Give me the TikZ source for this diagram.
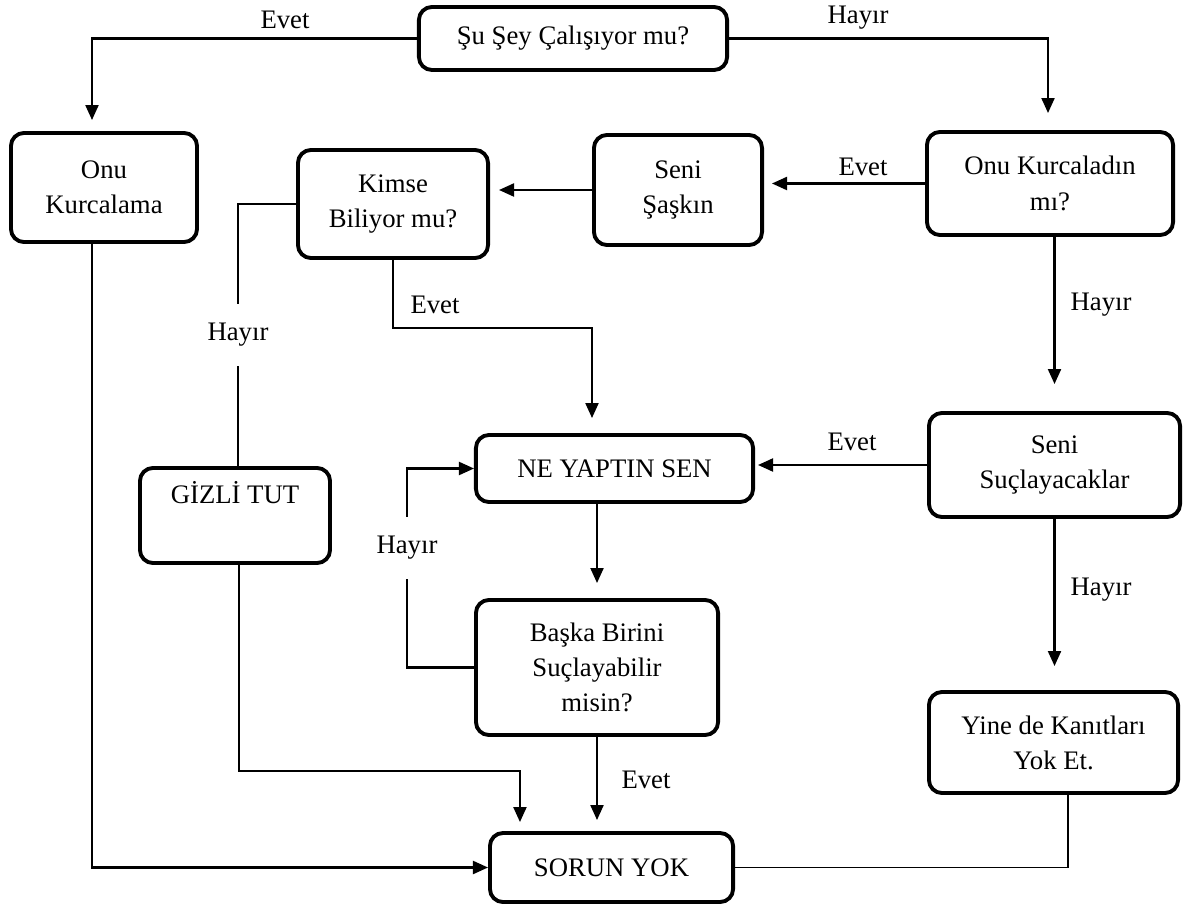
\documentclass[tikz,border=0pt]{standalone}
\usepackage{fontspec}
\setmainfont{Liberation Serif}
\usepackage{tikz}
\usetikzlibrary{arrows.meta,positioning,calc}

\tikzset{
  box/.style={draw, line width=1.1pt, rounded corners=1.3mm, align=center, inner sep=0pt},
  arr/.style={-{Triangle[length=1.5mm,width=1.3mm]}, line width=0.6pt},
  thinline/.style={line width=0.4pt},
  lbl/.style={inner sep=0.5pt},
  gap/.style={lbl, fill=white, inner ysep=1.9mm}
}

\begin{document}
\begin{tikzpicture}[x=0.01cm, y=-0.01cm, font=\fontsize{7.6}{10}\selectfont]
\useasboundingbox (0,0) rectangle (1189,907);

% Boxes
\node[box, minimum width=3.08cm, minimum height=0.63cm] (soru) at (573,38.5) {Şu Şey Çalışıyor mu?};
\node[box, minimum width=1.86cm, minimum height=1.09cm] (kurcalama) at (104,187.5) {Onu\\Kurcalama};
\node[box, minimum width=1.90cm, minimum height=1.08cm] (kimse) at (393,204) {Kimse\\Biliyor mu?};
\node[box, minimum width=1.68cm, minimum height=1.10cm] (saskin) at (678,190) {Seni\\Şaşkın};
\node[box, minimum width=2.46cm, minimum height=1.03cm] (kurcaladin) at (1050,183.5) {Onu Kurcaladın\\mı?};
\node[box, minimum width=2.77cm, minimum height=0.67cm] (neyaptin) at (614.5,468.5) {NE YAPTIN SEN};
\node[box, minimum width=2.51cm, minimum height=1.04cm] (suclayacak) at (1054.5,465) {Seni\\Suçlayacaklar};
\node[box, minimum width=1.90cm, minimum height=0.95cm] (gizli) at (235,515.5) {GİZLİ TUT\\\strut};
\node[box, minimum width=2.42cm, minimum height=1.35cm] (baska) at (597,667.5) {Başka Birini\\Suçlayabilir\\misin?};
\node[box, minimum width=2.43cm, minimum height=0.69cm] (sorun) at (611.5,867.5) {SORUN YOK};
\node[box, minimum width=2.49cm, minimum height=1.01cm] (yine) at (1053.5,742.5) {Yine de Kanıtları\\Yok Et.};

% Top question
\draw[arr] (soru.west) -| ([xshift=-1.2mm,yshift=1.1mm]kurcalama.north);
\node[lbl] (evet1) at (285,20) {Evet};
\draw[arr] (soru.east) -| ([xshift=-0.2mm,yshift=1.7mm]kurcaladin.north);
\node[lbl] (hayir1) at (858,18) {Hayır};

% Right column
\draw[arr, shorten >=0.8mm] (kurcaladin.west) -- (kurcaladin.west -| saskin.east);
\node[lbl] (evet2) at (863,167) {Evet};
\draw[arr, shorten >=2.7mm] (kurcaladin.south -| suclayacak.north) -- (suclayacak.north);
\node[lbl] (hayir3) at (1101,305) {Hayır};
\draw[arr, shorten >=0.3mm] (suclayacak.west) -- (suclayacak.west -| neyaptin.east);
\node[lbl] (evet4) at (852,442) {Evet};
\draw[arr, shorten >=2.4mm] (suclayacak.south) -- (suclayacak.south |- yine.north);
\node[lbl] (hayir4) at (1101,590) {Hayır};
\draw[thinline] ([xshift=1.45mm]yine.south) |- (sorun.east);

% Middle
\draw[arr, shorten >=0.9mm] (saskin.west) -- (saskin.west -| kimse.east);
\draw[thinline] (kimse.west) -| node[gap, pos=0.75] (hayir2) {Hayır} ([xshift=0.3mm]gizli.north);
\draw[arr] (kimse.south) -- ++(0,68) -| ([xshift=-2.25mm,yshift=1.5mm]neyaptin.north);
\node[lbl] (evet3) at (435,305) {Evet};
\draw[arr, shorten >=1.5mm] (neyaptin.south -| baska.north) -- (baska.north);
\draw[arr] (baska.west) -- ++(-67,0) |- node[gap, pos=0.3] (hayir5) {Hayır} (neyaptin.west);
\draw[arr, shorten >=1.1mm] (baska.south) -- (baska.south |- sorun.north);
\node[lbl] (evet5) at (646,780) {Evet};

% Into SORUN YOK
\draw[arr] ([xshift=0.4mm]gizli.south) -- ++(0,206) -| ([xshift=-9.15mm,yshift=0.9mm]sorun.north);
\draw[arr] ([xshift=-1.2mm]kurcalama.south) |- (sorun.west);
\end{tikzpicture}
\end{document}
